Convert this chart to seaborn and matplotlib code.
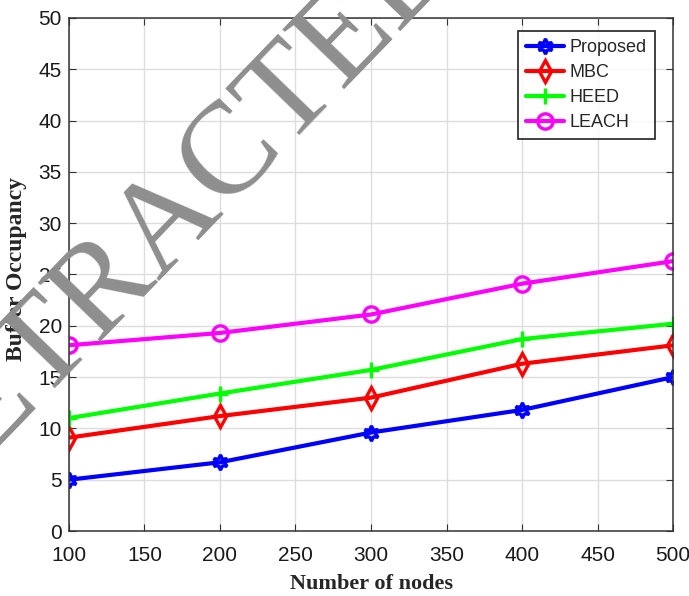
import numpy as np
import pandas as pd
import seaborn as sns
import matplotlib.pyplot as plt

# values
nodes = [100, 200, 300, 400, 500]
proposed = [5.0, 6.7, 9.6, 11.8, 15.0]
mbc = [9.1, 11.2, 13.0, 16.3, 18.1]
heed = [11.0, 13.4, 15.7, 18.7, 20.2]
leach = [18.1, 19.3, 21.1, 24.1, 26.3]

series_names = ['Proposed', 'MBC', 'HEED', 'LEACH']
series_values = [proposed, mbc, heed, leach]
colors = ['#0000ff', '#ff0000', '#00ff00', '#ff00ff']
markers = [(6, 1, 0), 'd', '+', 'o']

sns.set_style('ticks')
plt.rcParams['font.family'] = ['Liberation Sans', 'DejaVu Sans']

fig = plt.figure(figsize=(6.89, 5.96), dpi=100)
ax = fig.add_axes([0.100, 0.109, 0.877, 0.861])

for name, vals, c, m in zip(series_names, series_values, colors, markers):
    df = pd.DataFrame({'nodes': nodes, 'value': vals})
    sns.lineplot(data=df, x='nodes', y='value', ax=ax, color=c, marker=m,
                 markersize=11, markerfacecolor='none', markeredgecolor=c,
                 markeredgewidth=2.4, linewidth=3.0, label=name)

ax.set_xlim(100, 500)
ax.set_ylim(0, 50)
ax.set_xticks(np.arange(100, 501, 50))
ax.set_yticks(np.arange(0, 51, 5))
ax.grid(True, color='#dddddd', linewidth=1)
ax.tick_params(direction='in', top=True, right=True, labelsize=15,
               length=5, color='#333333', labelcolor='#1a1a1a')
ax.tick_params(axis='x', pad=11)
ax.tick_params(axis='y', pad=5)
for s in ax.spines.values():
    s.set_color('#333333')
    s.set_linewidth(1.1)

ax.set_xlabel('Number of nodes', fontsize=16, fontweight='bold',
              family='Liberation Serif', labelpad=6)
ax.set_ylabel('Buffer Occupancy', fontsize=17, fontweight='bold',
              family='Liberation Serif')
ax.yaxis.set_label_coords(-0.07, 0.51)

leg = ax.legend(loc='upper right', bbox_to_anchor=(0.970, 0.975), fontsize=13,
                frameon=True, fancybox=False, handlelength=2.1,
                borderpad=0.45, labelspacing=0.45, handletextpad=0.3,
                borderaxespad=0)
leg.get_frame().set_edgecolor('black')
leg.get_frame().set_linewidth(1.3)

# watermark
fig.text(0.248, 0.632, 'RETRACTED', rotation=46, rotation_mode='anchor',
         ha='center', va='center', fontsize=95, color='#8e8e8e',
         family='Liberation Serif')

fig.savefig('out.png', dpi=100)
